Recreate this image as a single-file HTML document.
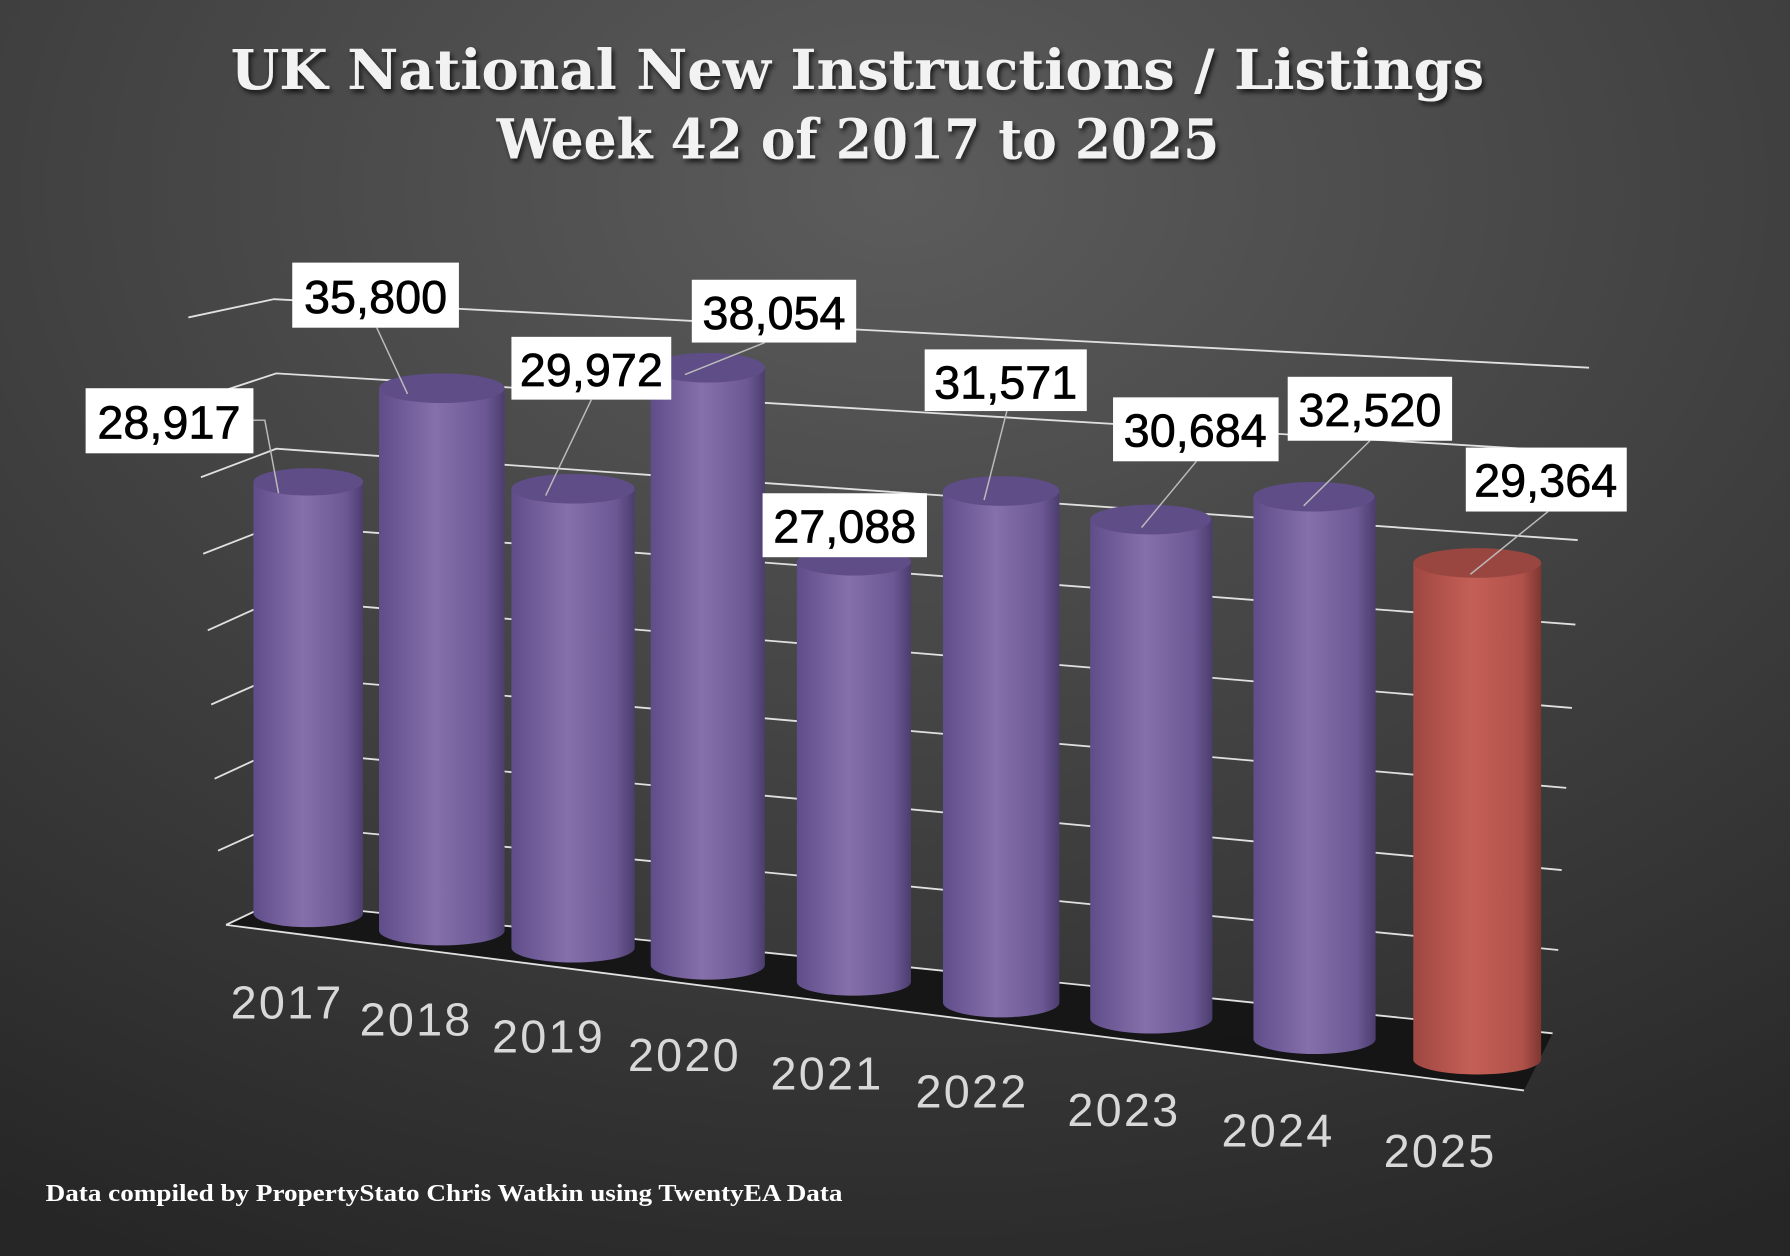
<!DOCTYPE html>
<html><head><meta charset="utf-8"><style>
html,body{margin:0;padding:0;background:#333;}
svg{display:block;}
</style></head><body>
<svg width="1790" height="1256" viewBox="0 0 1568 1100" preserveAspectRatio="none" xmlns="http://www.w3.org/2000/svg">
<defs>
<radialGradient id="bg" cx="0.5" cy="0.15" r="0.95">
<stop offset="0" stop-color="#5c5c5c"/><stop offset="0.6" stop-color="#3c3c3c"/><stop offset="1" stop-color="#262626"/>
</radialGradient>
<linearGradient id="pur" x1="0" x2="1" y1="0" y2="0">
<stop offset="0" stop-color="#5f4d8a"/><stop offset="0.45" stop-color="#8670ab"/><stop offset="0.85" stop-color="#6b5894"/><stop offset="1" stop-color="#4b3d6e"/>
</linearGradient>
<linearGradient id="red" x1="0" x2="1" y1="0" y2="0">
<stop offset="0" stop-color="#9f4741"/><stop offset="0.45" stop-color="#c45f56"/><stop offset="0.85" stop-color="#b0524a"/><stop offset="1" stop-color="#7e3631"/>
</linearGradient>
<filter id="sh"><feDropShadow dx="2" dy="3" stdDeviation="2" flood-color="#000" flood-opacity="0.7"/></filter>
</defs>
<rect width="1568" height="1100" fill="url(#bg)"/>
<polygon points="198,810 240,790 1360,905 1335,955" fill="#111" opacity="0.85"/>
<g stroke="#e0e0e0" stroke-width="1.6" fill="none">
<polyline points="165,278 240,262 1392,322"/>
<polyline points="172,350 242,327 1385,396"/>
<polyline points="176,418 242,393 1382,473"/>
<polyline points="178,485 242,460 1380,547"/>
<polyline points="182,552 242,525 1377,620"/>
<polyline points="185,617 242,592 1372,690"/>
<polyline points="188,682 242,657 1368,762"/>
<polyline points="191,745 242,722 1365,832"/>
<polyline points="198,810 240,790 1360,905"/>
<line x1="198" y1="810" x2="1335" y2="955"/>
</g>
<g>
<path d="M222,422 L222,800 A48,12 0 0 0 318,800 L318,422 Z" fill="url(#pur)"/><ellipse cx="270" cy="422" rx="48" ry="12" fill="#5e4d86"/>
<path d="M332,340 L332,815 A55,13 0 0 0 442,815 L442,340 Z" fill="url(#pur)"/><ellipse cx="387" cy="340" rx="55" ry="13" fill="#5e4d86"/>
<path d="M448,428 L448,830 A54,13 0 0 0 556,830 L556,428 Z" fill="url(#pur)"/><ellipse cx="502" cy="428" rx="54" ry="13" fill="#5e4d86"/>
<path d="M570,322 L570,845 A50,13 0 0 0 670,845 L670,322 Z" fill="url(#pur)"/><ellipse cx="620" cy="322" rx="50" ry="13" fill="#5e4d86"/>
<path d="M698,492 L698,860 A50,12 0 0 0 798,860 L798,492 Z" fill="url(#pur)"/><ellipse cx="748" cy="492" rx="50" ry="12" fill="#5e4d86"/>
<path d="M826,430 L826,878 A51,13 0 0 0 928,878 L928,430 Z" fill="url(#pur)"/><ellipse cx="877" cy="430" rx="51" ry="13" fill="#5e4d86"/>
<path d="M955,455 L955,892 A53,13 0 0 0 1062,892 L1062,455 Z" fill="url(#pur)"/><ellipse cx="1008" cy="455" rx="53" ry="13" fill="#5e4d86"/>
<path d="M1098,435 L1098,910 A53,13 0 0 0 1205,910 L1205,435 Z" fill="url(#pur)"/><ellipse cx="1151" cy="435" rx="53" ry="13" fill="#5e4d86"/>
<path d="M1238,493 L1238,928 A56,13 0 0 0 1350,928 L1350,493 Z" fill="url(#red)"/><ellipse cx="1294" cy="493" rx="56" ry="13" fill="#9a4640"/>
</g>
<g stroke="#bbb" stroke-width="1.3" fill="none">
<polyline points="222,368 232,368 244,432"/>
<line x1="330" y1="287" x2="357" y2="345"/>
<line x1="518" y1="350" x2="478" y2="434"/>
<line x1="670" y1="300" x2="600" y2="328"/>
<line x1="882" y1="360" x2="862" y2="438"/>
<line x1="1048" y1="404" x2="1000" y2="462"/>
<line x1="1200" y1="386" x2="1142" y2="443"/>
<line x1="1356" y1="448" x2="1288" y2="503"/>
</g>
<g font-family="'Liberation Sans',sans-serif" font-size="41" fill="#000" text-anchor="middle" stroke="#000" stroke-width="0.6">
<rect x="75" y="340" width="147" height="57" fill="#fff" stroke="none"/><text x="148" y="384">28,917</text>
<rect x="256" y="230" width="146" height="57" fill="#fff" stroke="none"/><text x="329" y="274">35,800</text>
<rect x="448" y="295" width="140" height="55" fill="#fff" stroke="none"/><text x="518" y="338">29,972</text>
<rect x="606" y="245" width="144" height="55" fill="#fff" stroke="none"/><text x="678" y="288">38,054</text>
<rect x="668" y="432" width="144" height="56" fill="#fff" stroke="none"/><text x="740" y="475">27,088</text>
<rect x="810" y="306" width="142" height="54" fill="#fff" stroke="none"/><text x="881" y="349">31,571</text>
<rect x="975" y="348" width="145" height="56" fill="#fff" stroke="none"/><text x="1047" y="391">30,684</text>
<rect x="1128" y="330" width="144" height="56" fill="#fff" stroke="none"/><text x="1200" y="373">32,520</text>
<rect x="1284" y="392" width="141" height="56" fill="#fff" stroke="none"/><text x="1354" y="435">29,364</text>
</g>
<g font-family="'Liberation Sans',sans-serif" font-size="41" fill="#d8d8d8">
<text x="202" y="892" textLength="97">2017</text>
<text x="315" y="907" textLength="97">2018</text>
<text x="431" y="922" textLength="97">2019</text>
<text x="550" y="938" textLength="97">2020</text>
<text x="675" y="954" textLength="97">2021</text>
<text x="802" y="970" textLength="97">2022</text>
<text x="935" y="986" textLength="97">2023</text>
<text x="1070" y="1004" textLength="97">2024</text>
<text x="1212" y="1022" textLength="97">2025</text>
</g>
<g font-family="'DejaVu Serif','Liberation Serif',serif" font-weight="bold" font-size="48" fill="#f2f2f2" filter="url(#sh)">
<text x="202" y="78" textLength="1098" lengthAdjust="spacingAndGlyphs">UK National New Instructions / Listings</text>
<text x="435" y="139" textLength="633" lengthAdjust="spacingAndGlyphs">Week 42 of 2017 to 2025</text>
</g>
<text x="40" y="1052" font-family="'Liberation Serif',serif" font-weight="bold" font-size="21" fill="#fff" textLength="698" lengthAdjust="spacingAndGlyphs">Data compiled by PropertyStato Chris Watkin using TwentyEA Data</text>
</svg>
</body></html>
